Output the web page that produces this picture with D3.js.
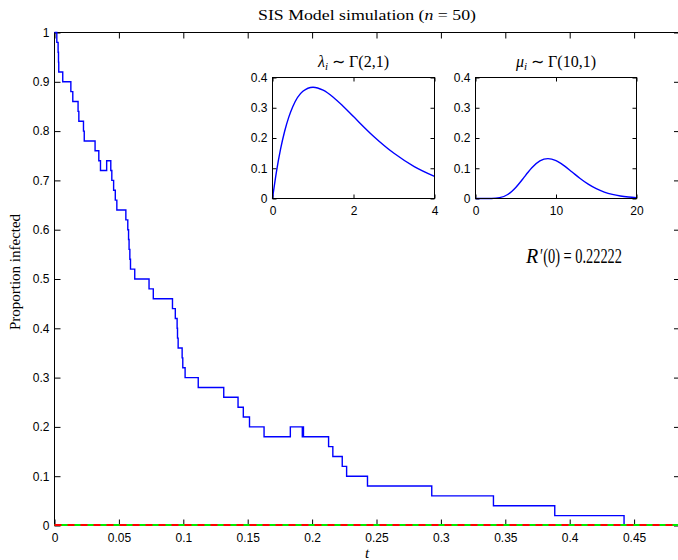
<!DOCTYPE html>
<html lang="en">
<head>
<meta charset="UTF-8">
<title>SIS Model simulation</title>
<script src="https://d3js.org/d3.v7.min.js"></script>
<style>
  body { margin: 0; background: #fff; }
  .tick text { font-family: "Liberation Sans", Arial, sans-serif; font-size: 12px; fill: #000; }
  .serif { font-family: "Liberation Serif", "Times New Roman", serif; fill: #000; }
</style>
</head>
<body>
<div id="chart"></div>
<script>
// step path of the simulation (time where each level starts, proportion infected)
const stepTimes = [0, 0.0018, 0.0028, 0.0031, 0.0033, 0.0064, 0.0127, 0.0142, 0.0183, 0.0189,
  0.0225, 0.0231, 0.0315, 0.0344, 0.0357, 0.0405, 0.0437, 0.0445, 0.0459, 0.0472,
  0.0484, 0.0554, 0.0569, 0.0575, 0.0579, 0.0585, 0.0590, 0.0623, 0.0734, 0.0767,
  0.0916, 0.0938, 0.0952, 0.0955, 0.0960, 0.0991, 0.0996, 0.1014, 0.1116, 0.1314,
  0.1425, 0.1466, 0.1514, 0.1627, 0.1831, 0.1924, 0.1928, 0.1933, 0.2128, 0.2161,
  0.2234, 0.2268, 0.2430, 0.2929, 0.3408, 0.3884, 0.4422];
const stepValues = [1, 0.98, 0.96, 0.94, 0.92, 0.90, 0.88, 0.86, 0.84, 0.82,
  0.80, 0.78, 0.76, 0.74, 0.72, 0.74, 0.72, 0.70, 0.68, 0.66,
  0.64, 0.62, 0.60, 0.58, 0.56, 0.54, 0.52, 0.50, 0.48, 0.46,
  0.44, 0.42, 0.40, 0.38, 0.36, 0.34, 0.32, 0.30, 0.28, 0.26,
  0.24, 0.22, 0.20, 0.18, 0.20, 0.18, 0.20, 0.18, 0.16, 0.14,
  0.12, 0.10, 0.08, 0.06, 0.04, 0.02, 0];

const xTicks = [0, 0.05, 0.1, 0.15, 0.2, 0.25, 0.3, 0.35, 0.4, 0.45];
const xTickLabels = ["0", "0.05", "0.1", "0.15", "0.2", "0.25", "0.3", "0.35", "0.4", "0.45"];
const yTicks = [0, 0.1, 0.2, 0.3, 0.4, 0.5, 0.6, 0.7, 0.8, 0.9, 1];
const yTickLabels = ["0", "0.1", "0.2", "0.3", "0.4", "0.5", "0.6", "0.7", "0.8", "0.9", "1"];

// inset 1: density of lambda
const lambdaX = [0, 0.1, 0.2, 0.3, 0.4, 0.5, 0.75, 1, 1.25, 1.5, 1.75, 2, 2.5, 3, 3.5, 4];
const lambdaY = [0, 0.0905, 0.1637, 0.2222, 0.2681, 0.3033, 0.3543, 0.3679, 0.3581, 0.3347,
  0.3041, 0.2707, 0.2052, 0.1494, 0.1057, 0.0733];
const lambdaXTicks = [0, 2, 4];

// inset 2: density of mu
const muX = [0, 1, 2, 3, 4, 4.5, 5, 5.5, 6, 6.5, 7, 8, 9, 10, 11, 12, 13, 14, 15, 16, 17, 18, 19, 20];
const muY = [0, 0.0000, 0.0002, 0.0027, 0.0132, 0.0232, 0.0363, 0.0519, 0.0688, 0.0858, 0.1014,
  0.1241, 0.1318, 0.1251, 0.1085, 0.0874, 0.0661, 0.0473, 0.0324, 0.0213, 0.0135, 0.0083,
  0.0050, 0.0029];
const muXTicks = [0, 10, 20];

const insetYTicks = [0, 0.1, 0.2, 0.3, 0.4];
const insetYTickLabels = ["0", "0.1", "0.2", "0.3", "0.4"];

const width = 678, height = 560;
const mLeft = 54.5, mTop = 32.5, mRight = 680, mBottom = 525.5;

const svg = d3.select("#chart").append("svg")
  .attr("width", width).attr("height", height);
svg.append("rect").attr("width", width).attr("height", height).attr("fill", "#fff");

const x = d3.scaleLinear().domain([0, (mRight - mLeft) / 1288]).range([mLeft, mRight]);
const y = d3.scaleLinear().domain([0, 1]).range([mBottom, mTop]);

// main axes
svg.append("g").attr("transform", `translate(0,${mBottom})`)
  .call(d3.axisBottom(x).tickValues(xTicks).tickFormat((d, i) => xTickLabels[i])
    .tickSizeInner(-6).tickSizeOuter(0).tickPadding(8));
svg.append("g").attr("transform", `translate(${mLeft},0)`)
  .call(d3.axisLeft(y).tickValues(yTicks).tickFormat((d, i) => yTickLabels[i])
    .tickSizeInner(-6).tickSizeOuter(0).tickPadding(5));
svg.append("g").attr("transform", `translate(0,${mTop})`)
  .call(d3.axisTop(x).tickValues(xTicks).tickFormat("").tickSizeInner(-6).tickSizeOuter(0));
svg.append("g").attr("transform", `translate(${mRight},0)`)
  .call(d3.axisRight(y).tickValues(yTicks).tickFormat("").tickSizeInner(-6).tickSizeOuter(0));
svg.selectAll(".domain").remove();
svg.append("rect").attr("x", mLeft).attr("y", mTop)
  .attr("width", mRight - mLeft).attr("height", mBottom - mTop)
  .attr("fill", "none").attr("stroke", "#000");

// simulation step line
const pts = stepTimes.map((t, i) => [t, stepValues[i]]);
svg.append("path").datum(pts)
  .attr("fill", "none").attr("stroke", "#0000ff").attr("stroke-width", 1.4)
  .attr("d", d3.line().x(d => x(d[0])).y(d => y(d[1])).curve(d3.curveStepAfter));

// zero lines
svg.append("line").attr("x1", mLeft).attr("x2", mRight).attr("y1", y(0) - 0.5).attr("y2", y(0) - 0.5)
  .attr("stroke", "#00ee00").attr("stroke-width", 2);
svg.append("line").attr("x1", mLeft).attr("x2", mRight).attr("y1", y(0) - 0.5).attr("y2", y(0) - 0.5)
  .attr("stroke", "#ff0000").attr("stroke-width", 2).attr("stroke-dasharray", "7,6");

// titles
const title = svg.append("text").attr("class", "serif")
  .attr("x", 258).attr("y", 20).attr("font-size", 15.5)
  .attr("textLength", 218).attr("lengthAdjust", "spacingAndGlyphs");
title.append("tspan").text("SIS Model simulation (");
title.append("tspan").attr("font-style", "italic").text("n");
title.append("tspan").text(" = 50)");

svg.append("text").attr("class", "serif")
  .attr("transform", `translate(20,272) rotate(-90)`)
  .attr("text-anchor", "middle").attr("font-size", 15).text("Proportion infected");

svg.append("text").attr("class", "serif")
  .attr("x", 367).attr("y", 558).attr("text-anchor", "middle")
  .attr("font-size", 15).attr("font-style", "italic").text("t");

svg.append("text").attr("class", "serif")
  .attr("x", 526).attr("y", 263).attr("font-size", 20).attr("font-style", "italic").text("R");
svg.append("text").attr("class", "serif")
  .attr("x", 540).attr("y", 263).attr("font-size", 20)
  .attr("textLength", 82).attr("lengthAdjust", "spacingAndGlyphs")
  .text("\u2032(0) = 0.22222");

// insets
function inset(x0, x1, xs, ys, xMax, xTickVals, sym, params) {
  const y0 = 198.5, y1 = 77.5;
  const ix = d3.scaleLinear().domain([0, xMax]).range([x0, x1]);
  const iy = d3.scaleLinear().domain([0, 0.4]).range([y0, y1]);
  const g = svg.append("g");
  g.append("rect").attr("x", x0).attr("y", y1).attr("width", x1 - x0).attr("height", y0 - y1)
    .attr("fill", "#fff");
  g.append("g").attr("transform", `translate(0,${y0})`)
    .call(d3.axisBottom(ix).tickValues(xTickVals).tickFormat(d3.format("d"))
      .tickSizeInner(-4).tickSizeOuter(0).tickPadding(8));
  g.append("g").attr("transform", `translate(${x0},0)`)
    .call(d3.axisLeft(iy).tickValues(insetYTicks).tickFormat((d, i) => insetYTickLabels[i])
      .tickSizeInner(-4).tickSizeOuter(0).tickPadding(5));
  g.append("g").attr("transform", `translate(0,${y1})`)
    .call(d3.axisTop(ix).tickValues(xTickVals).tickFormat("").tickSizeInner(-4).tickSizeOuter(0));
  g.append("g").attr("transform", `translate(${x1},0)`)
    .call(d3.axisRight(iy).tickValues(insetYTicks).tickFormat("").tickSizeInner(-4).tickSizeOuter(0));
  g.selectAll(".domain").remove();
  g.append("path").datum(xs.map((v, i) => [v, ys[i]]))
    .attr("fill", "none").attr("stroke", "#0000ff").attr("stroke-width", 1.4)
    .attr("d", d3.line().x(d => ix(d[0])).y(d => iy(d[1])).curve(d3.curveMonotoneX));
  g.append("rect").attr("x", x0).attr("y", y1).attr("width", x1 - x0).attr("height", y0 - y1)
    .attr("fill", "none").attr("stroke", "#000");
  const t = g.append("text").attr("class", "serif")
    .attr("x", (x0 + x1) / 2).attr("y", 67).attr("text-anchor", "middle").attr("font-size", 16);
  t.append("tspan").attr("font-style", "italic").text(sym);
  t.append("tspan").attr("font-style", "italic").attr("font-size", 11).attr("dy", 3).text("i");
  t.append("tspan").attr("dy", -3).text(" \u223C \u0393" + params);
}
inset(272.5, 434.5, lambdaX, lambdaY, 4, lambdaXTicks, "\u03BB", "(2,1)");
inset(475.5, 636.5, muX, muY, 20, muXTicks, "\u03BC", "(10,1)");
</script>
</body>
</html>
